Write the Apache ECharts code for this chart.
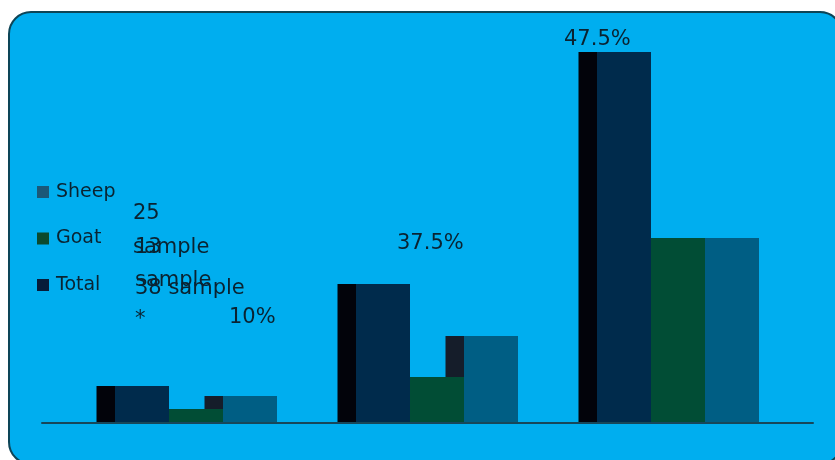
<!DOCTYPE html>
<html><head><meta charset="utf-8">
<script src="https://cdn.jsdelivr.net/npm/echarts@6/dist/echarts.min.js"></script>
<style>html,body{margin:0;padding:0;background:#fff}#c{width:835px;height:460px}</style>
</head><body><div id="c"></div>
<script>
// ---- data ----
const categories = ['Group 1', 'Group 2', 'Group 3'];
const totalValues = [3.7, 13.9, 37.1];
const goatValues = [1.4, 4.6, 18.5];
const sheepValues = [2.7, 8.7, 18.5];
const legendNames = ['Sheep', 'Goat', 'Total'];
const annotationLines = ['25', 'sample', '13', 'sample', '38 sample', '*', '10%', '37.5%', '47.5%'];

// ---- layout / style (not data) ----
const annotationPos = [[133,214],[133,248],[135,248],[135,281],[135,289],[135,320],[229,318],[397,244],[564,40]];
const FONT = 'DejaVu Sans';
const TEXT = '#0a2331';
const colors = { Total: '#002b4c', Goat: '#014d35', Sheep: '#005e84' };
const legendColors = { Sheep: '#1b5878', Goat: '#0b4a2e', Total: '#061c3a' };
const shadowColors = ['#02030a', '#0a1a22', '#151d2a'];
const BAR_W = 54, DEPTH = 18.5;

const seriesDefs = [['Total', totalValues], ['Goat', goatValues], ['Sheep', sheepValues]];
const shadowData = [];
seriesDefs.forEach((d, s) => d[1].forEach((v, i) => shadowData.push([i, v, s - 1])));

const chart = echarts.init(document.getElementById('c'));
chart.setOption({
  animation: false,
  textStyle: { fontFamily: FONT },
  graphic: [
    { type: 'rect', z: -1, silent: true,
      shape: { x: 9, y: 12, width: 833, height: 452, r: 22 },
      style: { fill: '#00aeef', stroke: '#0d4557', lineWidth: 2 } }
  ].concat(annotationLines.map((t, k) => ({
      type: 'text', z: 100, silent: true,
      x: annotationPos[k][0], y: annotationPos[k][1],
      style: { text: t, fill: TEXT, font: '21px "' + FONT + '"', textVerticalAlign: 'middle', textAlign: 'left' }
  }))),
  legend: {
    data: legendNames.map(n => ({ name: n, itemStyle: { color: legendColors[n] } })),
    orient: 'vertical', left: 37, top: 181, padding: 0,
    icon: 'rect', itemWidth: 12, itemHeight: 12, itemGap: 24.5,
    textStyle: { fontFamily: FONT, fontSize: 19, lineHeight: 22, color: TEXT, padding: [0,0,0,2] }
  },
  grid: [
    { left: 75.5, width: 723, top: 23, height: 400 },
    { left: 42, width: 771, top: 23, height: 400 }
  ],
  xAxis: [
    { type: 'category', gridIndex: 0, data: categories, axisLine: { show: false }, axisTick: { show: false }, axisLabel: { show: false } },
    { type: 'category', gridIndex: 1, data: categories, z: 10, axisLine: { show: true, lineStyle: { color: '#17475a', width: 2 } }, axisTick: { show: false }, axisLabel: { show: false } }
  ],
  yAxis: [
    { type: 'value', gridIndex: 0, min: 0, max: 40, show: false, splitLine: { show: false } },
    { type: 'value', gridIndex: 1, min: 0, max: 40, show: false, splitLine: { show: false } }
  ],
  series: [
    { type: 'custom', name: 'depth', z: 1, xAxisIndex: 0, yAxisIndex: 0, silent: true,
      encode: { x: 0, y: 1 }, data: shadowData,
      renderItem: function (params, api) {
        const cat = api.value(0), v = api.value(1), slot = api.value(2);
        const top = api.coord([cat, v]);
        const base = api.coord([cat, 0]);
        const left = top[0] + slot * BAR_W - BAR_W / 2;
        return { type: 'rect', shape: { x: left - DEPTH, y: top[1], width: DEPTH, height: base[1] - top[1] },
                 style: { fill: shadowColors[slot + 1] } };
      } }
  ].concat(seriesDefs.map(d => ({
    type: 'bar', name: d[0], data: d[1], z: 2, xAxisIndex: 0, yAxisIndex: 0,
    barWidth: BAR_W, barGap: '0%', itemStyle: { color: colors[d[0]] }
  })))
});
</script></body></html>
